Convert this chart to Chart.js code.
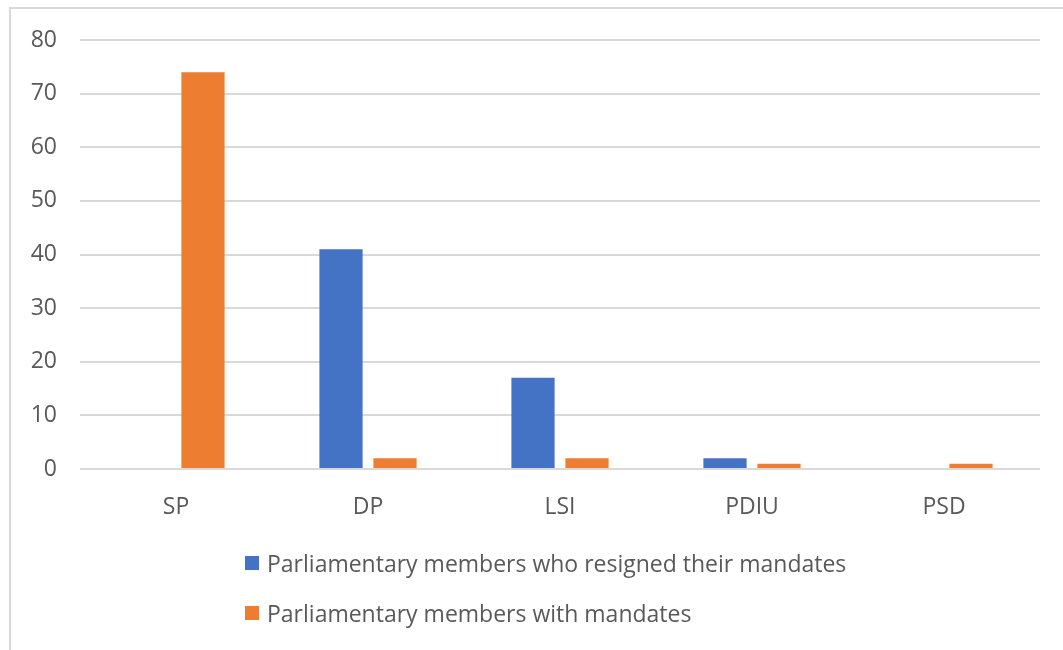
<!DOCTYPE html>
<html>
<head>
<meta charset="utf-8">
<script src="https://cdn.jsdelivr.net/npm/chart.js@4/dist/chart.umd.min.js"></script>
<style>
  html, body { margin: 0; padding: 0; background: #fff; }
  #wrap { position: relative; width: 1063px; height: 650px; overflow: hidden; }
  #frame { position: absolute; left: 9px; top: 7px; width: 1100px; height: 700px; border-left: 2px solid #d9d9d9; border-top: 2px solid #d9d9d9; box-sizing: border-box; }
  canvas { position: absolute; left: 0; top: 0; }
  #legend { position: absolute; left: 245px; top: 546px; font-family: "Open Sans", sans-serif; font-size: 23px; color: #595959; }
  .item { display: flex; align-items: center; height: 34px; margin-bottom: 16px; white-space: nowrap; }
  .sw { width: 14px; height: 14px; margin-right: 8px; flex: none; }
</style>
</head>
<body>
<div id="wrap">
  <div id="frame"></div>
  <canvas id="c" width="1063" height="650"></canvas>
  <div id="legend"></div>
</div>
<script>
const categories = ["SP", "DP", "LSI", "PDIU", "PSD"];
const resigned = [0, 41, 17, 2, 0];
const withMandates = [74, 2, 2, 1, 1];
const seriesNames = ["Parliamentary members who resigned their mandates", "Parliamentary members with mandates"];
const yTicks = [0, 10, 20, 30, 40, 50, 60, 70, 80];
const colors = ["#4472C4", "#ED7D31"];

const font = { family: "'Open Sans', sans-serif", size: 23 };

const chart = new Chart(document.getElementById("c"), {
  type: "bar",
  data: {
    labels: categories,
    datasets: [
      { label: seriesNames[0], data: resigned, backgroundColor: colors[0] },
      { label: seriesNames[1], data: withMandates, backgroundColor: colors[1] }
    ]
  },
  options: {
    responsive: false,
    animation: false,
    devicePixelRatio: 1,
    layout: { padding: { left: 0, right: 23, top: 40, bottom: 0 } },
    datasets: { bar: { categoryPercentage: 0.5625, barPercentage: 0.8 } },
    plugins: { legend: { display: false }, tooltip: { enabled: false } },
    scales: {
      x: {
        grid: { display: false, drawTicks: false },
        border: { display: false },
        ticks: { color: "#595959", font: font, padding: 25 },
        afterFit: (s) => { s.height = 650 - 469; }
      },
      y: {
        min: 0, max: 80,
        afterBuildTicks: (s) => { s.ticks = yTicks.map(v => ({ value: v })); },
        grid: { color: "#d9d9d9", lineWidth: 2, drawTicks: false },
        border: { display: false },
        ticks: { color: "#595959", font: font, padding: 23 },
        afterFit: (s) => { s.width = 80; }
      }
    }
  }
});

const legend = document.getElementById("legend");
seriesNames.forEach((name, i) => {
  const it = document.createElement("div");
  it.className = "item";
  const sw = document.createElement("span");
  sw.className = "sw";
  sw.style.background = colors[i];
  const tx = document.createElement("span");
  tx.textContent = name;
  it.appendChild(sw);
  it.appendChild(tx);
  legend.appendChild(it);
});
</script>
</body>
</html>
